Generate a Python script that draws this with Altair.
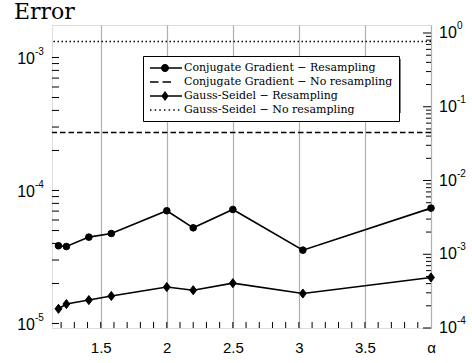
import altair as alt
import numpy as np
import pandas as pd

# Error versus relaxation parameter alpha
alpha = [1.18, 1.24, 1.41, 1.58, 2.0, 2.2, 2.5, 3.03, 4.0]
cg_resampling = [3.84e-5, 3.79e-5, 4.46e-5, 4.75e-5, 7.04e-5, 5.24e-5, 7.20e-5, 3.56e-5, 7.37e-5]
gs_resampling = [1.29e-5, 1.40e-5, 1.50e-5, 1.61e-5, 1.88e-5, 1.78e-5, 2.01e-5, 1.68e-5, 2.22e-5]
cg_no_resampling = 2.73e-4
gs_no_resampling = 1.318e-3

series_names = [
    "Conjugate Gradient − Resampling",
    "Conjugate Gradient − No resampling",
    "Gauss-Seidel − Resampling",
    "Gauss-Seidel − No resampling",
]

x_label_values = [1.5, 2, 2.5, 3, 3.5, 4]
left_decades = [-5, -4, -3]
right_decades = [-4, -3, -2, -1, 0]

W, H = 379, 303
SANS = "Liberation Sans"
SERIF = "DejaVu Serif"

XS = alt.Scale(domain=[1.131, 4.0], nice=False, zero=False)
LEFT = alt.Scale(type="log", domain=[9.25e-6, 1.755e-3], nice=False)
RIGHT = alt.Scale(type="log", domain=[1e-4, 1.284], nice=False)

x_axis = alt.Axis(
    values=x_label_values, format="~g",
    labelExpr="datum.value >= 4 ? 'α' : datum.label",
    title=None, ticks=False, tickSize=0, domain=False,
    grid=True, gridColor="#b0b0b0", gridWidth=1.2,
    labelFont=SANS, labelFontSize=15, labelColor="black",
    labelPadding=12, labelFlush=False, labelOverlap=False,
)
X = alt.X("alpha:Q", scale=XS, axis=x_axis)

# measured series
df = pd.DataFrame({
    "alpha": alpha * 2,
    "err": cg_resampling + gs_resampling,
    "series": [series_names[0]] * len(alpha) + [series_names[2]] * len(alpha),
})

lines = alt.Chart(df).mark_line(color="black", strokeWidth=1.6).encode(
    x=X, y=alt.Y("err:Q", scale=LEFT, axis=None), detail="series:N"
)

diamond = "M0,-1.37L1.04,0L0,1.37L-1.04,0Z"
points = alt.Chart(df).mark_point(
    filled=True, fill="black", stroke="black", strokeWidth=1, opacity=1, size=44
).encode(
    x=X,
    y=alt.Y("err:Q", scale=LEFT, axis=None),
    shape=alt.Shape("series:N", scale=alt.Scale(domain=[series_names[0], series_names[2]],
                                                range=["circle", diamond]), legend=None),
)

# constant reference levels
const_df = pd.DataFrame({"err": [cg_no_resampling, gs_no_resampling],
                         "series": [series_names[1], series_names[3]]})
levels = alt.Chart(const_df).mark_rule(color="black", strokeWidth=1.6).encode(
    y=alt.Y("err:Q", scale=LEFT, axis=None),
    strokeDash=alt.StrokeDash("series:N", scale=alt.Scale(domain=[series_names[1], series_names[3]],
                                                          range=[[5.5, 3], [1.5, 2.5]]), legend=None),
)

# legend symbols: line sample (thin filled bars) with marker
def bars(start, stop, step, length, half=0.16):
    segs = []
    x = start
    while x + length <= stop + 1e-9:
        segs.append(f"M{x:.2f},{-half}L{x + length:.2f},{-half}L{x + length:.2f},{half}L{x:.2f},{half}Z")
        x += step
    return "".join(segs)

solid = bars(-1, 5.4, 6.4, 6.4)
legend_paths = [
    solid + "M2.8,0A0.8,0.8,0,1,1,1.2,0A0.8,0.8,0,1,1,2.8,0Z",
    bars(-1, 5.4, 2.5, 1.7),
    solid + "M2.0,-1.0L2.75,0L2.0,1.0L1.25,0Z",
    bars(-1, 5.4, 0.93, 0.3),
]
legend_layer = alt.Chart(df).transform_filter("datum.alpha < 0").mark_point(
    filled=True, fill="black", opacity=1
).encode(
    x=X,
    y=alt.Y("err:Q", scale=LEFT, axis=None),
    shape=alt.Shape("series:N", scale=alt.Scale(domain=series_names, range=legend_paths),
                    legend=alt.Legend(
                        orient="none", legendX=91, legendY=31, title=None,
                        fillColor="white", strokeColor="black", padding=6,
                        symbolSize=100, symbolFillColor="black",
                        labelFont=SERIF, labelFontSize=11,
                        labelColor="black", labelOffset=23, rowPadding=-3.5,
                        gridAlign="all", labelLimit=400,
                    )),
)

shadow = alt.Chart(pd.DataFrame({"k": [0]})).mark_rect(color="#808080").encode(
    x=alt.value(94), x2=alt.value(349), y=alt.value(34), y2=alt.value(88)
)

title = alt.Chart(pd.DataFrame({"t": ["Error"]})).mark_text(
    align="left", baseline="alphabetic", font=SERIF, fontSize=22, color="black"
).encode(x=alt.value(-38), y=alt.value(-5.7), text="t:N")

# inward tick marks
left_ticks = pd.DataFrame({"v": [m * 10.0 ** e for e in left_decades for m in range(1, 10)
                                 if m * 10.0 ** e <= 1.755e-3]})
right_major = pd.DataFrame({"v": [10.0 ** e for e in right_decades]})
right_minor = pd.DataFrame({"v": [m * 10.0 ** e for e in right_decades[:-1] for m in range(2, 10)]})
bottom_ticks = pd.DataFrame({"alpha": np.round(np.arange(1.2, 3.95, 0.1), 2)})

lt = alt.Chart(left_ticks).mark_rule(color="black", strokeWidth=1).encode(
    y=alt.Y("v:Q", scale=LEFT, axis=None), x=alt.value(0), x2=alt.value(7))
rtM = alt.Chart(right_major).mark_rule(color="black", strokeWidth=1).encode(
    y=alt.Y("v:Q", scale=RIGHT, axis=None), x=alt.value(W - 8), x2=alt.value(W))
rtm = alt.Chart(right_minor).mark_rule(color="black", strokeWidth=1).encode(
    y=alt.Y("v:Q", scale=RIGHT, axis=None), x=alt.value(W - 5), x2=alt.value(W))
bt = alt.Chart(bottom_ticks).mark_rule(color="black", strokeWidth=1).encode(
    x=X, y=alt.value(H), y2=alt.value(H - 6))

# power-of-ten tick labels
left_lab = pd.DataFrame({"v": [10.0 ** e for e in left_decades], "base": "10",
                         "exp": [str(e) for e in left_decades]})
right_lab = pd.DataFrame({"v": [10.0 ** e for e in right_decades], "base": "10",
                          "exp": [str(e) for e in right_decades]})

ll_base = alt.Chart(left_lab).mark_text(align="right", baseline="middle", font=SANS,
                                        fontSize=16, color="black", dy=2).encode(
    y=alt.Y("v:Q", scale=LEFT, axis=None), x=alt.value(-17), text="base:N")
ll_exp = alt.Chart(left_lab).mark_text(align="left", baseline="middle", font=SANS,
                                       fontSize=10, color="black", dy=-5).encode(
    y=alt.Y("v:Q", scale=LEFT, axis=None), x=alt.value(-17), text="exp:N")
rl_base = alt.Chart(right_lab).mark_text(align="left", baseline="middle", font=SANS,
                                         fontSize=16, color="black").encode(
    y=alt.Y("v:Q", scale=RIGHT, axis=None), x=alt.value(W + 8), text="base:N")
rl_exp = alt.Chart(right_lab).mark_text(align="left", baseline="middle", font=SANS,
                                        fontSize=10, color="black", dy=-7).encode(
    y=alt.Y("v:Q", scale=RIGHT, axis=None), x=alt.value(W + 26), text="exp:N")

chart = alt.layer(
    lines, levels, points, bt, lt, rtM, rtm, ll_base, ll_exp, rl_base, rl_exp, title,
    shadow, legend_layer
).resolve_scale(
    y="independent", shape="independent", strokeDash="independent"
).properties(
    width=W, height=H,
    autosize="none",
    padding={"left": 52, "top": 25, "right": 41, "bottom": 35},
).configure_view(
    stroke="black", strokeWidth=1.5
).configure_legend(
    strokeWidth=1
).configure(background="white")

chart.save("out.html", embed_options={"renderer": "svg", "actions": False})
